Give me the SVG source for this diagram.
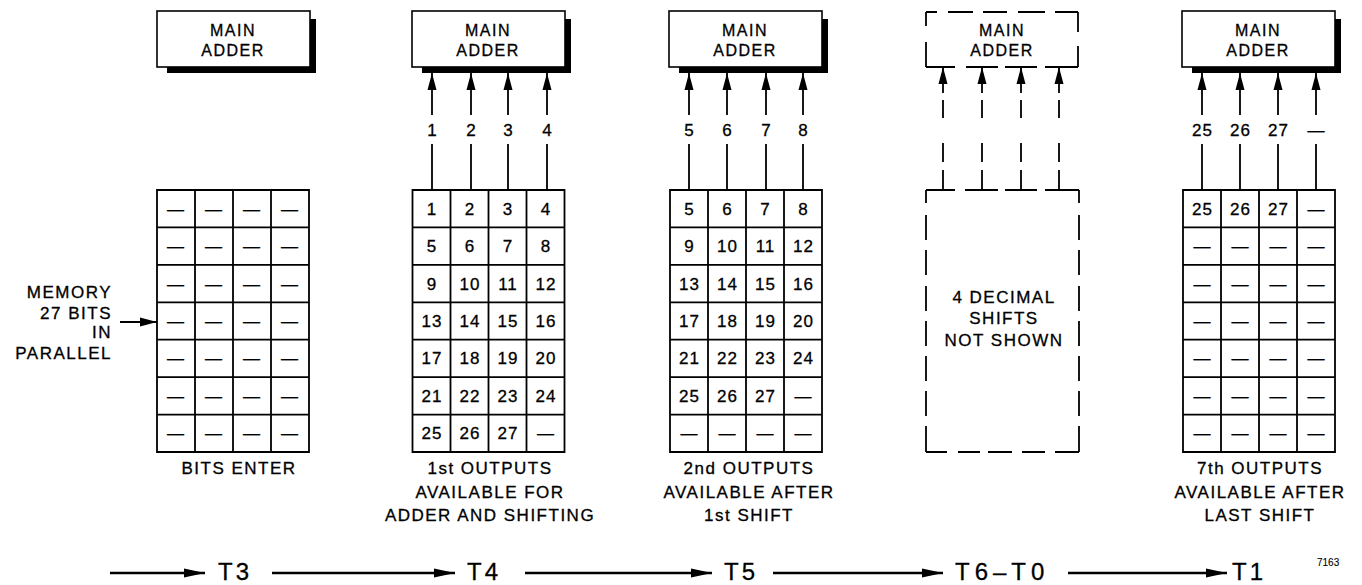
<svg xmlns="http://www.w3.org/2000/svg" xmlns:xlink="http://www.w3.org/1999/xlink" width="1362" height="585" viewBox="0 0 1362 585">
<style>
  text { font-family: "Liberation Sans", Arial, sans-serif; fill: #000; stroke: #000; stroke-width: 0.3px; }
  .box { fill: #fff; stroke: #000; stroke-width: 1.6; }
  .shadow { fill: #000; }
  .grid { fill: none; stroke: #000; stroke-width: 1.8; }
  .dash { fill: none; stroke: #000; stroke-width: 1.8; }
  .conn { fill: none; stroke: #000; stroke-width: 1.8; }
  .time { fill: none; stroke: #000; stroke-width: 2.6; }
  .ad { font-size: 16px; letter-spacing: 1.5px; text-anchor: middle; }
  .c { font-size: 17px; letter-spacing: 1px; text-anchor: middle; }
  .cap { font-size: 17px; letter-spacing: 1.5px; text-anchor: middle; }
  .mem { font-size: 17px; letter-spacing: 1.5px; text-anchor: end; }
  .lab { font-size: 17px; letter-spacing: 1px; text-anchor: middle; }
  .tl { font-size: 24px; letter-spacing: 3px; }
  .fig { font-size: 10px; stroke-width: 0.1px; }
</style>
<defs>
  <marker id="ah" markerUnits="userSpaceOnUse" markerWidth="17" markerHeight="10" refX="17" refY="5" orient="auto">
    <path d="M0,0.5 L17,5 L0,9.5 Z" fill="#000"/>
  </marker>
  <marker id="ahT" markerUnits="userSpaceOnUse" markerWidth="21" markerHeight="11" refX="21" refY="5.5" orient="auto">
    <path d="M0,1 L21,5.5 L0,10 Z" fill="#000"/>
  </marker>
  <g id="adderBox">
    <path class="shadow" d="M10,56 H153 V8 H159 V62 H10 Z"/>
    <rect class="box" x="0" y="0" width="153" height="56"/>
  </g>
  <path id="gridShape" class="grid" d="M0,0H152V262H0Z M38,0V262 M76,0V262 M114,0V262 M0,37.43H152 M0,74.86H152 M0,112.29H152 M0,149.71H152 M0,187.14H152 M0,224.57H152"/>
</defs>
<rect x="0" y="0" width="1362" height="585" fill="#fff"/>

<!-- Adder nodes -->
<g id="adder1">
  <use xlink:href="#adderBox" x="157" y="11"/>
  <text class="ad" x="233" y="36">MAIN</text>
  <text class="ad" x="233" y="56">ADDER</text>
</g>
<g id="adder2">
  <use xlink:href="#adderBox" x="412" y="11"/>
  <text class="ad" x="488" y="36">MAIN</text>
  <text class="ad" x="488" y="56">ADDER</text>
</g>
<g id="adder3">
  <use xlink:href="#adderBox" x="669" y="11"/>
  <text class="ad" x="745" y="36">MAIN</text>
  <text class="ad" x="745" y="56">ADDER</text>
</g>
<g id="adder4">
  <path class="dash" d="M926,12 H937 M948,12 H973 M983,12 H1007 M1018,12 H1045 M1055,12 H1078
    M926,12 V26 M926,42 V67 M1078,12 V32 M1078,46 V67
    M926,67 H955 M966,67 H998 M1005,67 H1037 M1045,67 H1078"/>
  <text class="ad" x="1002" y="36">MAIN</text>
  <text class="ad" x="1002" y="56">ADDER</text>
</g>
<g id="adder5">
  <use xlink:href="#adderBox" x="1182" y="11"/>
  <text class="ad" x="1258" y="36">MAIN</text>
  <text class="ad" x="1258" y="56">ADDER</text>
</g>

<!-- Register grids -->
<g id="grid1">
  <use xlink:href="#gridShape" x="157" y="190"/>
  <text class="c" x="176" y="214.7">—</text><text class="c" x="214" y="214.7">—</text><text class="c" x="252" y="214.7">—</text><text class="c" x="290" y="214.7">—</text>
  <text class="c" x="176" y="252.1">—</text><text class="c" x="214" y="252.1">—</text><text class="c" x="252" y="252.1">—</text><text class="c" x="290" y="252.1">—</text>
  <text class="c" x="176" y="289.6">—</text><text class="c" x="214" y="289.6">—</text><text class="c" x="252" y="289.6">—</text><text class="c" x="290" y="289.6">—</text>
  <text class="c" x="176" y="327">—</text><text class="c" x="214" y="327">—</text><text class="c" x="252" y="327">—</text><text class="c" x="290" y="327">—</text>
  <text class="c" x="176" y="364.4">—</text><text class="c" x="214" y="364.4">—</text><text class="c" x="252" y="364.4">—</text><text class="c" x="290" y="364.4">—</text>
  <text class="c" x="176" y="401.9">—</text><text class="c" x="214" y="401.9">—</text><text class="c" x="252" y="401.9">—</text><text class="c" x="290" y="401.9">—</text>
  <text class="c" x="176" y="439.3">—</text><text class="c" x="214" y="439.3">—</text><text class="c" x="252" y="439.3">—</text><text class="c" x="290" y="439.3">—</text>
</g>
<g id="grid2">
  <use xlink:href="#gridShape" x="412.5" y="190"/>
  <text class="c" x="432" y="214.7">1</text><text class="c" x="470" y="214.7">2</text><text class="c" x="508" y="214.7">3</text><text class="c" x="546" y="214.7">4</text>
  <text class="c" x="432" y="252.1">5</text><text class="c" x="470" y="252.1">6</text><text class="c" x="508" y="252.1">7</text><text class="c" x="546" y="252.1">8</text>
  <text class="c" x="432" y="289.6">9</text><text class="c" x="470" y="289.6">10</text><text class="c" x="508" y="289.6">11</text><text class="c" x="546" y="289.6">12</text>
  <text class="c" x="432" y="327">13</text><text class="c" x="470" y="327">14</text><text class="c" x="508" y="327">15</text><text class="c" x="546" y="327">16</text>
  <text class="c" x="432" y="364.4">17</text><text class="c" x="470" y="364.4">18</text><text class="c" x="508" y="364.4">19</text><text class="c" x="546" y="364.4">20</text>
  <text class="c" x="432" y="401.9">21</text><text class="c" x="470" y="401.9">22</text><text class="c" x="508" y="401.9">23</text><text class="c" x="546" y="401.9">24</text>
  <text class="c" x="432" y="439.3">25</text><text class="c" x="470" y="439.3">26</text><text class="c" x="508" y="439.3">27</text><text class="c" x="546" y="439.3">—</text>
</g>
<g id="grid3">
  <use xlink:href="#gridShape" x="670" y="190"/>
  <text class="c" x="689.5" y="214.7">5</text><text class="c" x="727.5" y="214.7">6</text><text class="c" x="765.5" y="214.7">7</text><text class="c" x="803.5" y="214.7">8</text>
  <text class="c" x="689.5" y="252.1">9</text><text class="c" x="727.5" y="252.1">10</text><text class="c" x="765.5" y="252.1">11</text><text class="c" x="803.5" y="252.1">12</text>
  <text class="c" x="689.5" y="289.6">13</text><text class="c" x="727.5" y="289.6">14</text><text class="c" x="765.5" y="289.6">15</text><text class="c" x="803.5" y="289.6">16</text>
  <text class="c" x="689.5" y="327">17</text><text class="c" x="727.5" y="327">18</text><text class="c" x="765.5" y="327">19</text><text class="c" x="803.5" y="327">20</text>
  <text class="c" x="689.5" y="364.4">21</text><text class="c" x="727.5" y="364.4">22</text><text class="c" x="765.5" y="364.4">23</text><text class="c" x="803.5" y="364.4">24</text>
  <text class="c" x="689.5" y="401.9">25</text><text class="c" x="727.5" y="401.9">26</text><text class="c" x="765.5" y="401.9">27</text><text class="c" x="803.5" y="401.9">—</text>
  <text class="c" x="689.5" y="439.3">—</text><text class="c" x="727.5" y="439.3">—</text><text class="c" x="765.5" y="439.3">—</text><text class="c" x="803.5" y="439.3">—</text>
</g>
<g id="shifts">
  <path class="dash" d="M926,190 H955 M965,190 H998 M1005,190 H1037 M1045,190 H1079
    M926,190 V203 M926,215 V240 M926,250 V275 M926,286 V311 M926,321 V346 M926,356 V381 M926,391 V416 M926,426 V452
    M1079,190 V203 M1079,215 V240 M1079,250 V275 M1079,286 V311 M1079,321 V346 M1079,356 V381 M1079,391 V416 M1079,426 V452
    M926,452 H947 M958,452 H980 M988,452 H1012 M1022,452 H1045 M1055,452 H1079"/>
  <text class="cap" x="1004" y="303">4 DECIMAL</text>
  <text class="cap" x="1004" y="324">SHIFTS</text>
  <text class="cap" x="1004" y="346">NOT SHOWN</text>
</g>
<g id="grid5">
  <use xlink:href="#gridShape" x="1183" y="190"/>
  <text class="c" x="1202.5" y="214.7">25</text><text class="c" x="1240.5" y="214.7">26</text><text class="c" x="1278.5" y="214.7">27</text><text class="c" x="1316.5" y="214.7">—</text>
  <text class="c" x="1202.5" y="252.1">—</text><text class="c" x="1240.5" y="252.1">—</text><text class="c" x="1278.5" y="252.1">—</text><text class="c" x="1316.5" y="252.1">—</text>
  <text class="c" x="1202.5" y="289.6">—</text><text class="c" x="1240.5" y="289.6">—</text><text class="c" x="1278.5" y="289.6">—</text><text class="c" x="1316.5" y="289.6">—</text>
  <text class="c" x="1202.5" y="327">—</text><text class="c" x="1240.5" y="327">—</text><text class="c" x="1278.5" y="327">—</text><text class="c" x="1316.5" y="327">—</text>
  <text class="c" x="1202.5" y="364.4">—</text><text class="c" x="1240.5" y="364.4">—</text><text class="c" x="1278.5" y="364.4">—</text><text class="c" x="1316.5" y="364.4">—</text>
  <text class="c" x="1202.5" y="401.9">—</text><text class="c" x="1240.5" y="401.9">—</text><text class="c" x="1278.5" y="401.9">—</text><text class="c" x="1316.5" y="401.9">—</text>
  <text class="c" x="1202.5" y="439.3">—</text><text class="c" x="1240.5" y="439.3">—</text><text class="c" x="1278.5" y="439.3">—</text><text class="c" x="1316.5" y="439.3">—</text>
</g>

<!-- Memory input label -->
<g id="memory">
  <text class="mem" x="112" y="298">MEMORY</text>
  <text class="mem" x="112" y="319">27 BITS</text>
  <text class="mem" x="112" y="338">IN</text>
  <text class="mem" x="112" y="359">PARALLEL</text>
</g>

<!-- Captions -->
<g id="caption1">
  <text class="cap" x="239" y="474">BITS ENTER</text>
</g>
<g id="caption2">
  <text class="cap" x="490" y="474">1st OUTPUTS</text>
  <text class="cap" x="490" y="498">AVAILABLE FOR</text>
  <text class="cap" x="490" y="521">ADDER AND SHIFTING</text>
</g>
<g id="caption3">
  <text class="cap" x="749" y="474">2nd OUTPUTS</text>
  <text class="cap" x="749" y="498">AVAILABLE AFTER</text>
  <text class="cap" x="749" y="521">1st SHIFT</text>
</g>
<g id="caption5">
  <text class="cap" x="1260" y="474">7th OUTPUTS</text>
  <text class="cap" x="1260" y="498">AVAILABLE AFTER</text>
  <text class="cap" x="1260" y="521">LAST SHIFT</text>
</g>

<!-- Connectors -->
<g id="connectors">
  <path class="conn" d="M120,322 H157" marker-end="url(#ah)"/>
  <!-- column 2 -->
  <path class="conn" d="M432,115 V73" marker-end="url(#ah)"/><path class="conn" d="M432,190 V144"/>
  <path class="conn" d="M471,115 V73" marker-end="url(#ah)"/><path class="conn" d="M471,190 V144"/>
  <path class="conn" d="M508,115 V73" marker-end="url(#ah)"/><path class="conn" d="M508,190 V144"/>
  <path class="conn" d="M547,115 V73" marker-end="url(#ah)"/><path class="conn" d="M547,190 V144"/>
  <!-- column 3 -->
  <path class="conn" d="M689,115 V73" marker-end="url(#ah)"/><path class="conn" d="M689,190 V144"/>
  <path class="conn" d="M727,115 V73" marker-end="url(#ah)"/><path class="conn" d="M727,190 V144"/>
  <path class="conn" d="M766,115 V73" marker-end="url(#ah)"/><path class="conn" d="M766,190 V144"/>
  <path class="conn" d="M803,115 V73" marker-end="url(#ah)"/><path class="conn" d="M803,190 V144"/>
  <!-- column 4 (dashed) -->
  <path class="conn" d="M943,93 V67" marker-end="url(#ah)"/><path class="conn" d="M943,100 V118 M943,143 V162 M943,170 V190"/>
  <path class="conn" d="M982,93 V67" marker-end="url(#ah)"/><path class="conn" d="M982,100 V118 M982,143 V162 M982,170 V190"/>
  <path class="conn" d="M1021,93 V67" marker-end="url(#ah)"/><path class="conn" d="M1021,100 V118 M1021,143 V162 M1021,170 V190"/>
  <path class="conn" d="M1059,93 V67" marker-end="url(#ah)"/><path class="conn" d="M1059,100 V118 M1059,143 V162 M1059,170 V190"/>
  <!-- column 5 -->
  <path class="conn" d="M1202,115 V73" marker-end="url(#ah)"/><path class="conn" d="M1202,190 V144"/>
  <path class="conn" d="M1240,115 V73" marker-end="url(#ah)"/><path class="conn" d="M1240,190 V144"/>
  <path class="conn" d="M1278,115 V73" marker-end="url(#ah)"/><path class="conn" d="M1278,190 V144"/>
  <path class="conn" d="M1316,115 V73" marker-end="url(#ah)"/><path class="conn" d="M1316,190 V144"/>
  <!-- connector labels -->
  <text class="lab" x="432.5" y="136">1</text><text class="lab" x="471.5" y="136">2</text><text class="lab" x="508.5" y="136">3</text><text class="lab" x="547.5" y="136">4</text>
  <text class="lab" x="689.5" y="136">5</text><text class="lab" x="727.5" y="136">6</text><text class="lab" x="766.5" y="136">7</text><text class="lab" x="803.5" y="136">8</text>
  <text class="lab" x="1202.5" y="136">25</text><text class="lab" x="1240.5" y="136">26</text><text class="lab" x="1278.5" y="136">27</text><text class="lab" x="1316.5" y="136">—</text>
  <!-- timeline -->
  <path class="time" d="M110,573 H205" marker-end="url(#ahT)"/>
  <path class="time" d="M272,573 H455" marker-end="url(#ahT)"/>
  <path class="time" d="M525,573 H712" marker-end="url(#ahT)"/>
  <path class="time" d="M773,573 H943" marker-end="url(#ahT)"/>
  <path class="time" d="M1068,573 H1227" marker-end="url(#ahT)"/>
</g>

<!-- Timeline labels -->
<g id="timeline-labels">
  <text class="tl" x="218" y="580">T3</text>
  <text class="tl" x="467" y="580">T4</text>
  <text class="tl" x="724" y="580">T5</text>
  <text class="tl" x="955" y="580" style="letter-spacing:5px">T6–T0</text>
  <text class="tl" x="1232" y="580">T1</text>
  <text class="fig" x="1317" y="566">7163</text>
</g>
</svg>
